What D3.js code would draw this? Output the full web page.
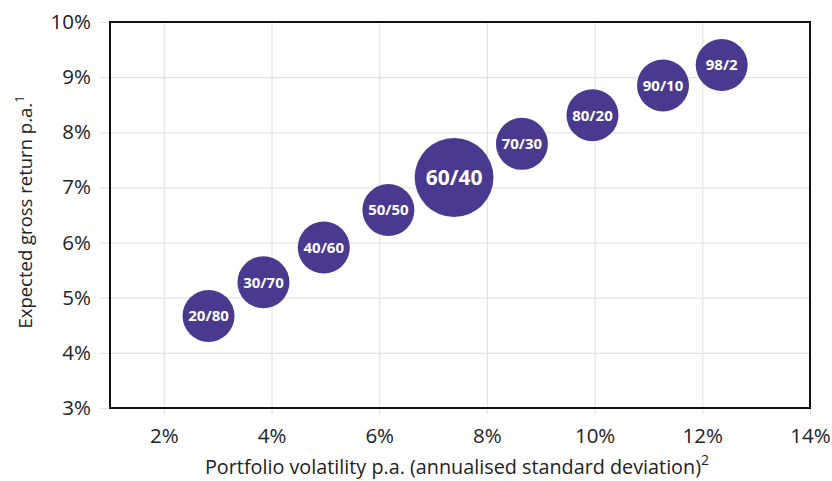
<!DOCTYPE html>
<html>
<head>
<meta charset="utf-8">
<script src="https://cdn.jsdelivr.net/npm/d3@7"></script>
<style>
  body { margin: 0; background: #fff; }
  text { font-family: "Open Sans", "Noto Sans", sans-serif; }
</style>
</head>
<body>
<div id="container"></div>
<script>
/* CONSTANTS AND GLOBALS */
const width = 832,
  height = 481,
  margin = { top: 22, bottom: 73, left: 110, right: 22 };

/* DATA */
const labels = ["20/80", "30/70", "40/60", "50/50", "60/40", "70/30", "80/20", "90/10", "98/2"];
const volatility = [2.83, 3.85, 4.97, 6.17, 7.39, 8.65, 9.96, 11.27, 12.36];
const expReturn = [4.67, 5.28, 5.91, 6.59, 7.18, 7.79, 8.31, 8.85, 9.22];
const weight = [1, 1, 1, 1, 2.3, 1, 1, 1, 1];
const xTicks = [2, 4, 6, 8, 10, 12, 14];
const yTicks = [3, 4, 5, 6, 7, 8, 9, 10];

const data = labels.map((l, i) => ({
  label: l, x: volatility[i], y: expReturn[i], w: weight[i]
}));

// SCALES
const xScale = d3.scaleLinear()
  .domain([1, 14])
  .range([margin.left, width - margin.right]);

const yScale = d3.scaleLinear()
  .domain([3, 10])
  .range([height - margin.bottom, margin.top]);

const rScale = d3.scaleSqrt()
  .domain([0, 1])
  .range([0, 26]);

// CREATE SVG ELEMENT
const svg = d3.select("#container")
  .append("svg")
  .attr("width", width)
  .attr("height", height);

// GRID + AXES
const xAxis = d3.axisBottom(xScale)
  .tickValues(xTicks)
  .tickSize(-(height - margin.top - margin.bottom) - 6)
  .tickPadding(14)
  .tickFormat(d => d + "%");

const yAxis = d3.axisLeft(yScale)
  .tickValues(yTicks)
  .tickSize(-(width - margin.left - margin.right) - 10)
  .tickPadding(9)
  .tickFormat(d => d + "%");

const gx = svg.append("g")
  .attr("transform", `translate(0, ${height - margin.bottom + 6})`)
  .call(xAxis);

const gy = svg.append("g")
  .attr("transform", `translate(${margin.left - 10}, 0)`)
  .call(yAxis);

[gx, gy].forEach(g => {
  g.select(".domain").remove();
  g.selectAll(".tick line").attr("stroke", "#e3e3e3").attr("stroke-width", 1.2);
  g.selectAll(".tick text")
    .attr("fill", "#222")
    .attr("font-size", 20.5);
});

// FRAME
svg.append("rect")
  .attr("x", margin.left)
  .attr("y", margin.top)
  .attr("width", width - margin.left - margin.right)
  .attr("height", height - margin.top - margin.bottom)
  .attr("fill", "none")
  .attr("stroke", "#111")
  .attr("stroke-width", 2);

// BUBBLES
const bubbles = svg.append("g")
  .selectAll("g")
  .data(data)
  .join("g")
  .attr("transform", d => `translate(${xScale(d.x)}, ${yScale(d.y)})`);

bubbles.append("circle")
  .attr("r", d => rScale(d.w))
  .attr("fill", "#4a3a8f");

bubbles.append("text")
  .attr("text-anchor", "middle")
  .attr("dy", "0.36em")
  .attr("fill", "#fff")
  .attr("font-weight", "bold")
  .attr("font-size", d => d.w > 1 ? 21 : 15)
  .text(d => d.label);

// AXIS TITLES
const xt = svg.append("text")
  .attr("x", 457)
  .attr("y", 474)
  .attr("text-anchor", "middle")
  .attr("fill", "#222")
  .attr("font-size", 19.8);
xt.append("tspan").text("Portfolio volatility p.a. (annualised standard deviation)");
xt.append("tspan").attr("dy", -9).attr("font-size", 14).text("2");

const yt = svg.append("text")
  .attr("transform", `translate(32, 212) rotate(-90)`)
  .attr("text-anchor", "middle")
  .attr("fill", "#222")
  .attr("font-size", 18.5);
yt.append("tspan").text("Expected gross return p.a.");
yt.append("tspan").attr("dy", -8).attr("font-size", 13).text("1");
</script>
</body>
</html>
